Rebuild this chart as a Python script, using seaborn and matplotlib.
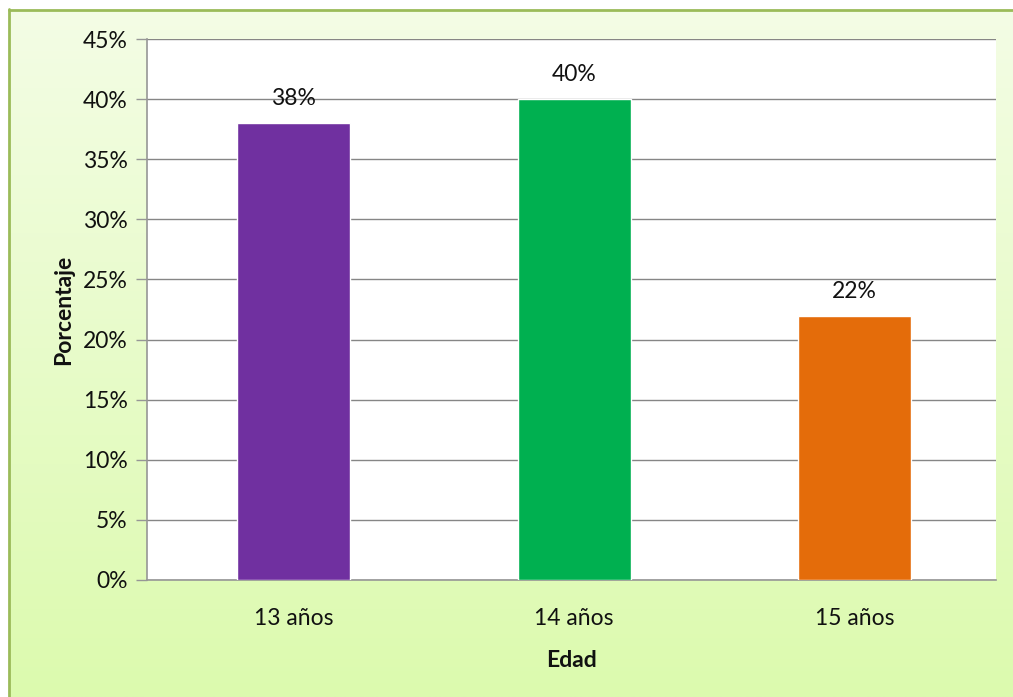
import matplotlib
matplotlib.use("Agg")
import matplotlib.pyplot as plt
import seaborn as sns
import numpy as np
import pandas as pd
from matplotlib.patches import Rectangle
from matplotlib.ticker import MultipleLocator, FuncFormatter

categories = ["13 años", "14 años", "15 años"]
values = [38, 40, 22]
colors = ["#7030A0", "#00B050", "#E46C0A"]
value_labels = ["38%", "40%", "22%"]

sns.set_theme(style="white")
plt.rcParams['font.family'] = ['Lato', 'DejaVu Sans']

W, H = 1013, 697
FS = 16.5
fig = plt.figure(figsize=(W / 100, H / 100), dpi=100)
fig.patch.set_facecolor("white")

# gradient background
bg = fig.add_axes([0, 0, 1, 1], zorder=-10)
top = np.array([0xF4, 0xFD, 0xE6]) / 255
bot = np.array([0xDC, 0xFA, 0xAE]) / 255
t = np.linspace(0, 1, 256)[:, None]
grad = top[None, :] * (1 - t) + bot[None, :] * t
grad = np.repeat(grad[:, None, :], 2, axis=1)
bg.imshow(grad, aspect="auto", extent=[0, 1, 0, 1], origin="upper")
bg.set_xlim(0, 1)
bg.set_ylim(0, 1)
bg.axis("off")
bg.add_patch(Rectangle((0, 0), 8 / W, 1, color="white", transform=bg.transAxes, zorder=2))
bg.add_patch(Rectangle((0, 1 - 9 / H), 1, 9 / H, color="white", transform=bg.transAxes, zorder=2))
bg.plot([8.5 / W, 8.5 / W], [0, 1 - 9 / H], color="#9BBB59", lw=2, zorder=3)
bg.plot([8.5 / W, 1], [1 - 9.5 / H, 1 - 9.5 / H], color="#9BBB59", lw=2, zorder=3)

ax = fig.add_axes([147 / W, (H - 580) / H, (996 - 147) / W, (580 - 39) / H])
ax.set_facecolor("white")
df = pd.DataFrame({"Edad": categories, "Porcentaje": values})
sns.barplot(data=df, x="Edad", y="Porcentaje", hue="Edad", palette=colors,
            width=0.403, ax=ax, legend=False, saturation=1, zorder=3)

ax.set_xlim(-0.524, 2.505)
ax.set_ylim(0, 45)
ax.yaxis.set_major_locator(MultipleLocator(5))
ax.yaxis.set_major_formatter(FuncFormatter(lambda v, p: f"{int(round(v))}%"))
ax.grid(axis="y", color="#868686", lw=1, zorder=0)
ax.set_axisbelow(True)
for s in ["top", "right"]:
    ax.spines[s].set_visible(False)
ax.spines["left"].set_color("#969696")
ax.spines["bottom"].set_color("#969696")
ax.spines["left"].set_linewidth(1.2)
ax.spines["bottom"].set_linewidth(1.2)
ax.tick_params(axis="y", length=8, color="#969696", width=1, labelsize=FS, pad=6,
               left=True, labelcolor="#111111")
ax.tick_params(axis="x", length=0, labelsize=FS, pad=20, labelcolor="#111111")

for i, (v, lab) in enumerate(zip(values, value_labels)):
    ax.annotate(lab, (i, v), xytext=(0, 10), textcoords="offset points",
                ha="center", va="bottom", fontsize=FS, color="#111111")

ax.set_xlabel("Edad", fontsize=FS, fontweight="bold", labelpad=15, color="#111111")
ax.set_ylabel("Porcentaje", fontsize=FS, fontweight="bold", labelpad=6, color="#111111")

fig.savefig("out.png", dpi=100)
